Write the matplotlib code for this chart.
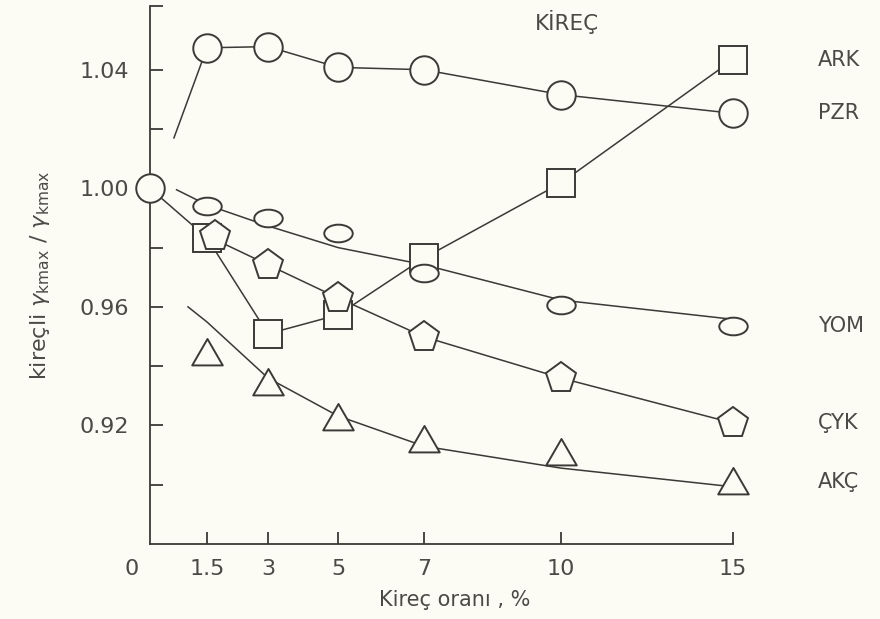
import numpy as np
import matplotlib
matplotlib.use("Agg")
import matplotlib.pyplot as plt
from matplotlib.path import Path
from matplotlib.transforms import ScaledTranslation

# ---------------- data ----------------
x_ticks = [0, 1.5, 3, 5, 7, 10, 15]
x_ticklabels = ["0", "1.5", "3", "5", "7", "10", "15"]
y_major = [0.92, 0.96, 1.00, 1.04]
y_major_labels = ["0.92", "0.96", "1.00", "1.04"]
y_minor = [0.90, 0.94, 0.98, 1.02, 1.0615]

origin_x = [0]
origin_y = [1.00]

pzr_x = [1.5, 3, 5, 7, 10, 15]
pzr_y = [1.0474, 1.0478, 1.0408, 1.0400, 1.0316, 1.0253]
pzr_lead_x = [0.63, 1.5]
pzr_lead_y = [1.0170, 1.0474]

ark_x = [0, 1.5, 3, 5, 7, 10, 15]
ark_y = [1.000, 0.9833, 0.9509, 0.9573, 0.9765, 1.0018, 1.0434]

yom_x = [1.5, 3, 5, 7, 10, 15]
yom_y = [0.9941, 0.9900, 0.9850, 0.9715, 0.9607, 0.9536]
yom_fit_x = [0.7, 1.5, 3, 5, 7, 10, 15]
yom_fit_y = [0.9995, 0.9944, 0.9873, 0.9800, 0.9742, 0.9623, 0.9558]

cyk_x = [1.5, 3, 5, 7, 10, 15]
cyk_y = [0.9840, 0.9742, 0.9630, 0.9499, 0.9360, 0.9208]

akc_x = [1.5, 3, 5, 7, 10, 15]
akc_y = [0.9445, 0.9343, 0.9225, 0.9150, 0.9107, 0.9010]
akc_fit_x = [1.0, 1.5, 3, 5, 7, 10, 15]
akc_fit_y = [0.9600, 0.9549, 0.9360, 0.9232, 0.9130, 0.9056, 0.8993]

series_names = ["ARK", "PZR", "YOM", "ÇYK", "AKÇ"]

# ---------------- style ----------------
BG = "#fcfbf4"
INK = "#3a3a36"
TXT = "#4a4a46"
plt.rcParams["font.family"] = ["DejaVu Sans"]

fig = plt.figure(figsize=(8.8, 6.19), dpi=100, facecolor=BG)
ax = fig.add_axes([150 / 880, 1 - 544 / 619, (733 - 150) / 880, (544 - 6) / 619])
ax.set_facecolor(BG)

# hand-drawn (non-uniform) x axis of the original figure
_knots = np.array([0, 1.5, 3, 5, 7, 10, 15])
_pos = np.array([0.0, 57, 118, 188, 274, 411, 583])


def _fwd(x):
    return np.interp(x, _knots, _pos)


def _inv(p):
    return np.interp(p, _pos, _knots)


ax.set_xscale("function", functions=(_fwd, _inv))
ax.set_xlim(0, 15)
ax.set_ylim(0.88, 1.0615)

# markers
ell = Path.unit_circle()
ellipse_marker = Path(ell.vertices * np.array([1.0, 0.62]), ell.codes)
tri_marker = Path([(-1, -0.78), (1, -0.78), (0, 0.95), (-1, -0.78)],
                  [Path.MOVETO, Path.LINETO, Path.LINETO, Path.CLOSEPOLY])

lw = 1.1
mew = 1.4
mk = dict(color=INK, markerfacecolor=BG, markeredgecolor=INK, markeredgewidth=mew,
          linestyle="none", zorder=4, clip_on=False)
ln = dict(color=INK, lw=lw, zorder=2, clip_on=False)


def shift(dx_px):
    return ax.transData + ScaledTranslation(dx_px / 100, 0, fig.dpi_scale_trans)


# lines
ax.plot(pzr_lead_x, pzr_lead_y, **ln)
ax.plot(pzr_x, pzr_y, **ln)
ax.plot(ark_x, ark_y, **ln)
ax.plot(yom_fit_x, yom_fit_y, **ln)
ax.plot(cyk_x, cyk_y, **ln)
ax.plot(akc_fit_x, akc_fit_y, **ln)

# markers
ax.plot(origin_x, origin_y, marker="o", markersize=20.5, **mk)
ax.plot(pzr_x, pzr_y, marker="o", markersize=20.5, **mk)
ax.plot(ark_x[1:], ark_y[1:], marker="s", markersize=19.5, **mk)
ax.plot(yom_x, yom_y, marker=ellipse_marker, markersize=20.5,
        **{**mk, "zorder": 5})
ax.plot(cyk_x[:1], cyk_y[:1], marker="p", markersize=22.5, transform=shift(8),
        **{**mk, "zorder": 6})
ax.plot(cyk_x[1:], cyk_y[1:], marker="p", markersize=22.5, **{**mk, "zorder": 6})
ax.plot(akc_x, akc_y, marker=tri_marker, markersize=22, **mk)

# series labels on the right
for name, yv in zip(series_names, [ark_y[-1], pzr_y[-1], yom_y[-1], cyk_y[-1], akc_y[-1]]):
    ax.annotate(name, xy=(15, yv), xytext=(61, 0), textcoords="offset points",
                ha="left", va="center", fontsize=15, color=TXT, annotation_clip=False)

fig.text(567 / 880, 1 - 22 / 619, "KİREÇ", ha="center", va="center",
         fontsize=15.5, color=TXT)

# axes styling
for s in ["top", "right"]:
    ax.spines[s].set_visible(False)
for s in ["left", "bottom"]:
    ax.spines[s].set_color(INK)
    ax.spines[s].set_linewidth(1.3)

ax.set_xticks(x_ticks)
ax.set_xticklabels(x_ticklabels)
ax.xaxis.set_minor_locator(matplotlib.ticker.NullLocator())
ax.set_yticks(y_major)
ax.set_yticklabels(y_major_labels)
ax.set_yticks(y_minor, minor=True)
ax.tick_params(axis="both", which="both", direction="in", colors=INK,
               width=1.3, labelcolor=TXT, labelsize=16)
ax.tick_params(axis="y", which="both", length=9, pad=15)
ax.tick_params(axis="x", which="both", length=9, pad=11)
xt = ax.xaxis.get_major_ticks()
xt[0].tick1line.set_visible(False)
lab0 = xt[0].label1
lab0.set_transform(lab0.get_transform() + ScaledTranslation(-18 / 100, 0, fig.dpi_scale_trans))

ax.set_xlabel("Kireç oranı , %", fontsize=15, color=TXT)
ax.xaxis.set_label_coords((455 - 150) / 583, (544 - 590) / 538)
ax.set_ylabel(r"kireçli $\gamma_{\mathrm{kmax}}$ / $\gamma_{\mathrm{kmax}}$",
              fontsize=16, color=TXT)
ax.yaxis.set_label_coords((52 - 150) / 583, 0.5)

fig.savefig("out.png", dpi=100, facecolor=BG)
